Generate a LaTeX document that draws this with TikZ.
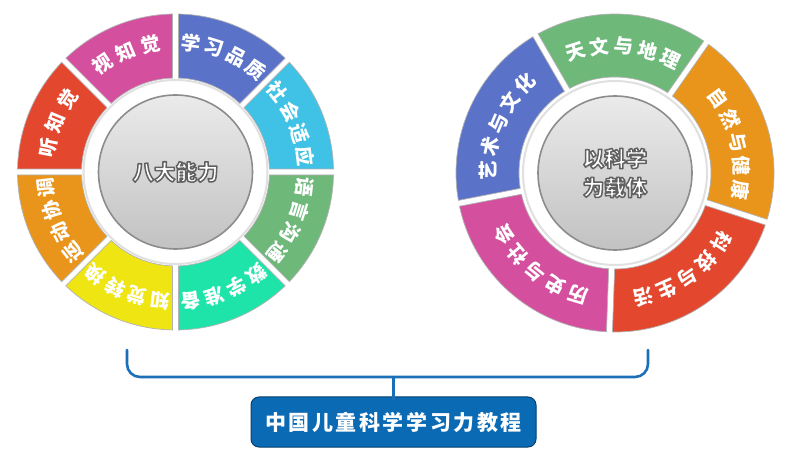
\documentclass[tikz,border=0pt]{standalone}
\usepackage{fontspec}
\newfontfamily\cjk{Noto Sans CJK SC}
\definecolor{cblue}{HTML}{5A73C9}
\definecolor{cmag}{HTML}{D54F9F}
\definecolor{cred}{HTML}{E3472E}
\definecolor{corange}{HTML}{E9951B}
\definecolor{cyellow}{HTML}{EFE513}
\definecolor{caqua}{HTML}{1EE4A9}
\definecolor{cgreen}{HTML}{6EB87A}
\definecolor{ccyan}{HTML}{40C1E6}
\definecolor{bracketblue}{HTML}{1A6FB8}
\definecolor{boxblue}{HTML}{0A6AB4}
\newcommand\outlinetext[1]{\special{pdf:code q 2 Tr 0.38 0.38 0.38 RG 1.5 w 1 j}#1\special{pdf:code Q}}
\tikzset{
  seg/.style={draw=black!30, line width=0.7pt},
  segtext/.style={text=white, font=\cjk\bfseries\fontsize{19.5}{19.5}\selectfont, inner sep=0pt, anchor=center},
  hub/.style={circle, minimum size=154pt, inner sep=0pt, draw=black!45, line width=1.6pt,
    top color=black!8, bottom color=black!24, text=white,
    font=\cjk\bfseries\fontsize{21.5}{29}\selectfont, align=center},
  halo/.style={circle, minimum size=184pt, inner sep=0pt, draw=black!12, line width=2pt, fill=white},
  bracket/.style={draw=bracketblue, line width=2.6pt, line cap=round},
  titlebox/.style={rounded corners=8pt, fill=boxblue, draw=boxblue!60!black, line width=1pt,
    minimum width=285pt, minimum height=50pt, text=white, inner sep=0pt,
    font=\cjk\bfseries\fontsize{21}{21}\selectfont\addfontfeature{LetterSpace=12}}
}
% annular sector with parallel gaps
\newcommand\gapseg[7]{%
  \pgfmathsetmacro\sgGi{asin(3/#5)}\pgfmathsetmacro\sgGo{asin(3/#6)}%
  \pgfmathsetmacro\sgAi{#3+\sgGi}\pgfmathsetmacro\sgBi{#4-\sgGi}%
  \pgfmathsetmacro\sgAo{#3+\sgGo}\pgfmathsetmacro\sgBo{#4-\sgGo}%
  \begin{scope}[shift={(#1,#2)}]
    \path[seg, fill=#7] (\sgAo:#6pt) arc[start angle=\sgAo, end angle=\sgBo, radius=#6pt]
      -- (\sgBi:#5pt) arc[start angle=\sgBi, end angle=\sgAi, radius=#5pt] -- cycle;
  \end{scope}}
% characters set along an arc, clockwise, tops outward
\newcommand\arclabel[7]{%
  \foreach \ch [count=\k] in {#7}{%
    \pgfmathsetmacro\th{#4+((#6+1)/2-\k)*#5}%
    \node[segtext, rotate=\th-90] at ([shift={(#1,#2)}]\th:#3pt) {\ch};
  }}
\begin{document}
\begin{tikzpicture}[x=1pt,y=1pt]
\useasboundingbox (0,0) rectangle (800,463);
\fill[white] (0,0) rectangle (800,463);

% ---------- left wheel ----------
\node[halo] (halo1) at (175.5,291) {};
\gapseg{175.5}{291}{0}{45}{94}{158}{ccyan}
\gapseg{175.5}{291}{45}{90}{94}{158}{cblue}
\gapseg{175.5}{291}{90}{135}{94}{158}{cmag}
\gapseg{175.5}{291}{135}{180}{94}{158}{cred}
\gapseg{175.5}{291}{180}{225}{94}{158}{corange}
\gapseg{175.5}{291}{225}{270}{94}{158}{cyellow}
\gapseg{175.5}{291}{270}{315}{94}{158}{caqua}
\gapseg{175.5}{291}{315}{360}{94}{158}{cgreen}
\arclabel{175.5}{291}{130}{22.5}{10.5}{4}{社,会,适,应}
\arclabel{175.5}{291}{130}{67.5}{10.5}{4}{学,习,品,质}
\arclabel{175.5}{291}{130}{112.5}{11.5}{3}{视,知,觉}
\arclabel{175.5}{291}{130}{157.5}{11.5}{3}{听,知,觉}
\arclabel{175.5}{291}{130}{202.5}{10.5}{4}{运,动,协,调}
\arclabel{175.5}{291}{130}{247.5}{10.5}{4}{知,觉,转,换}
\arclabel{175.5}{291}{130}{292.5}{10.5}{4}{数,学,准,备}
\arclabel{175.5}{291}{130}{337.5}{10.5}{4}{语,言,沟,通}
\node[hub] (hub1) at (175.5,291) {\outlinetext{八大能力}};

% ---------- right wheel ----------
\node[halo] (halo2) at (615,290) {};
\gapseg{615}{290}{55}{120}{96}{159}{cgreen}
\gapseg{615}{290}{120}{191}{96}{159}{cblue}
\gapseg{615}{290}{191}{268}{96}{159}{cmag}
\gapseg{615}{290}{268}{342}{96}{159}{cred}
\gapseg{615}{290}{342}{415}{96}{159}{corange}
\arclabel{615}{290}{127}{86}{11}{5}{天,文,与,地,理}
\arclabel{615}{290}{127}{14}{11}{5}{自,然,与,健,康}
\arclabel{615}{290}{127}{305}{11}{5}{科,技,与,生,活}
\arclabel{615}{290}{127}{231}{11}{5}{历,史,与,社,会}
\arclabel{615}{290}{127}{157}{11}{5}{艺,术,与,文,化}
\node[hub] (hub2) at (615,290) {\outlinetext{以科学}\\\outlinetext{为载体}};

% ---------- bracket and title ----------
\coordinate (bl) at (127,113);
\coordinate (br) at (648,113);
\coordinate (bk) at (393.5,86);
\node[titlebox] (title) at (393.5,41) {中国儿童科学学习力教程};
\draw[bracket, rounded corners=13pt] (bl) -- (bl |- bk) -- (br |- bk) -- (br);
\draw[bracket, line cap=butt] (bk) -- ([yshift=-4pt]bk |- title.north);
\end{tikzpicture}
\end{document}
